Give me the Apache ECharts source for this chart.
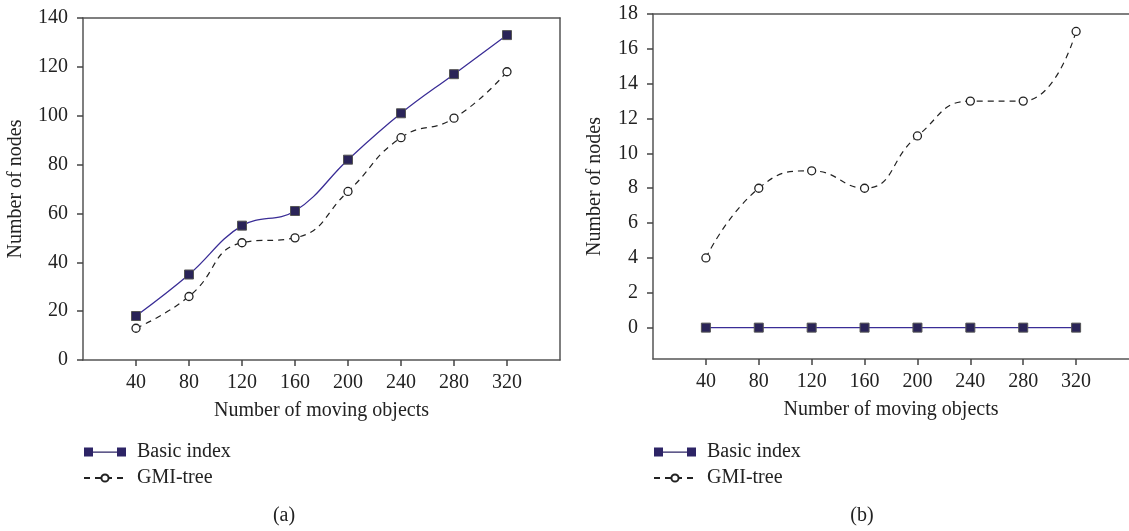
<!DOCTYPE html>
<html>
<head>
<meta charset="utf-8">
<script src="https://cdn.jsdelivr.net/npm/echarts@6/dist/echarts.min.js"></script>
<style>
  html, body { margin: 0; padding: 0; background: #fff; }
  #main { width: 1129px; height: 531px; }
</style>
</head>
<body>
<div id="main"></div>
<script>
// data
var objects = [40, 80, 120, 160, 200, 240, 280, 320];
var basicA = [18, 35, 55, 61, 82, 101, 117, 133];
var gmiA = [13, 26, 48, 50, 69, 91, 99, 118];
var basicB = [0, 0, 0, 0, 0, 0, 0, 0];
var gmiB = [4, 8, 9, 8, 11, 13, 13, 17];

var xTicks = [40, 80, 120, 160, 200, 240, 280, 320];
var yTicksA = [0, 20, 40, 60, 80, 100, 120, 140];
var yTicksB = [0, 2, 4, 6, 8, 10, 12, 14, 16, 18];

var FONT = 'Liberation Serif';
var FS = 20;
var AXIS = '#555';
var TXT = '#222';

function pairs(ys) {
	return objects.map(function (x, i) { return [x, ys[i]]; });
}

// main x axis, ticks only at the data positions
function xMain(grid) {
	return {
		gridIndex: grid, type: 'value', min: 0, max: 360,
		name: 'Number of moving objects', nameLocation: 'middle', nameGap: 41,
		nameTextStyle: { fontFamily: FONT, fontSize: FS, color: TXT },
		axisLine: { show: true, onZero: false, lineStyle: { color: AXIS, width: 1.5 } },
		axisTick: { show: true, inside: false, length: 6, customValues: xTicks, lineStyle: { color: '#444', width: 1.5 } },
		axisLabel: { customValues: xTicks, margin: 13, fontFamily: FONT, fontSize: FS, color: TXT },
		splitLine: { show: false }
	};
}
// bare frame line (top / right)
function frame(grid, pos, isX) {
	return {
		gridIndex: grid, type: 'value', position: pos, min: 0, max: isX ? 360 : 140,
		axisLine: { show: true, onZero: false, lineStyle: { color: AXIS, width: 1.5 } },
		axisTick: { show: false }, axisLabel: { show: false }, splitLine: { show: false }
	};
}
function yMain(grid, min, max, ticks, gap) {
	return {
		gridIndex: grid, type: 'value', min: min, max: max,
		name: 'Number of nodes', nameLocation: 'middle', nameGap: gap,
		nameTextStyle: { fontFamily: FONT, fontSize: FS, color: TXT },
		axisLine: { show: true, onZero: false, lineStyle: { color: AXIS, width: 1.5 } },
		axisTick: { show: true, inside: false, length: 6, customValues: ticks, lineStyle: { color: '#444', width: 1.5 } },
		axisLabel: { customValues: ticks, margin: 15, fontFamily: FONT, fontSize: FS, color: TXT },
		splitLine: { show: false }
	};
}

var basicStyle = {
	type: 'line', smooth: 0.4, symbol: 'rect', symbolSize: 9,
	lineStyle: { color: '#3a2d96', width: 1.3 },
	itemStyle: { color: '#2a2458', borderColor: '#555', borderWidth: 1 },
	z: 3
};
var gmiStyle = {
	type: 'line', smooth: 0.5, symbol: 'circle', symbolSize: 8,
	lineStyle: { color: '#222', width: 1.2, type: [6, 5] },
	itemStyle: { color: '#fff', borderColor: '#222', borderWidth: 1.3 },
	z: 2
};

function series(name, style, xi, yi, ys) {
	var s = Object.assign({}, style);
	s.name = name; s.xAxisIndex = xi; s.yAxisIndex = yi; s.data = pairs(ys);
	return s;
}

function legendAt(left) {
	return {
		orient: 'vertical', left: left, top: 442, itemGap: 6, padding: 0,
		itemWidth: 42, itemHeight: 9, selectedMode: false,
		textStyle: { fontFamily: FONT, fontSize: FS, color: TXT, padding: [0, 0, 0, 6] },
		data: [
			{ name: 'Basic index', icon: 'path://M0,0h9v9h-9zM33,0h9v9h-9zM9,4h24v1.2h-24z',
			  itemStyle: { color: '#2d2466', borderWidth: 0 } },
			{ name: 'GMI-tree' }
		]
	};
}

var myChart = echarts.init(document.getElementById('main'));
var option = {
	animation: false,
	title: [
		{ text: '(a)', left: 284, top: 506, textAlign: 'center', padding: 0,
		  textStyle: { fontFamily: FONT, fontSize: FS, fontWeight: 'normal', color: TXT } },
		{ text: '(b)', left: 862, top: 506, textAlign: 'center', padding: 0,
		  textStyle: { fontFamily: FONT, fontSize: FS, fontWeight: 'normal', color: TXT } }
	],
	legend: [legendAt(83), legendAt(653)],
	grid: [
		{ left: 83, top: 18, width: 477, height: 342 },
		{ left: 653, top: 14, width: 481, height: 345 }
	],
	xAxis: [xMain(0), frame(0, 'top', true), xMain(1), frame(1, 'top', true)],
	yAxis: [
		yMain(0, 0, 140, yTicksA, 57),
		frame(0, 'right', false),
		yMain(1, -1.8, 18, yTicksB, 48)
	],
	series: [
		series('Basic index', basicStyle, 0, 0, basicA),
		series('GMI-tree', gmiStyle, 0, 0, gmiA),
		series('Basic index', basicStyle, 2, 2, basicB),
		series('GMI-tree', gmiStyle, 2, 2, gmiB)
	]
};
myChart.setOption(option);
</script>
</body>
</html>
